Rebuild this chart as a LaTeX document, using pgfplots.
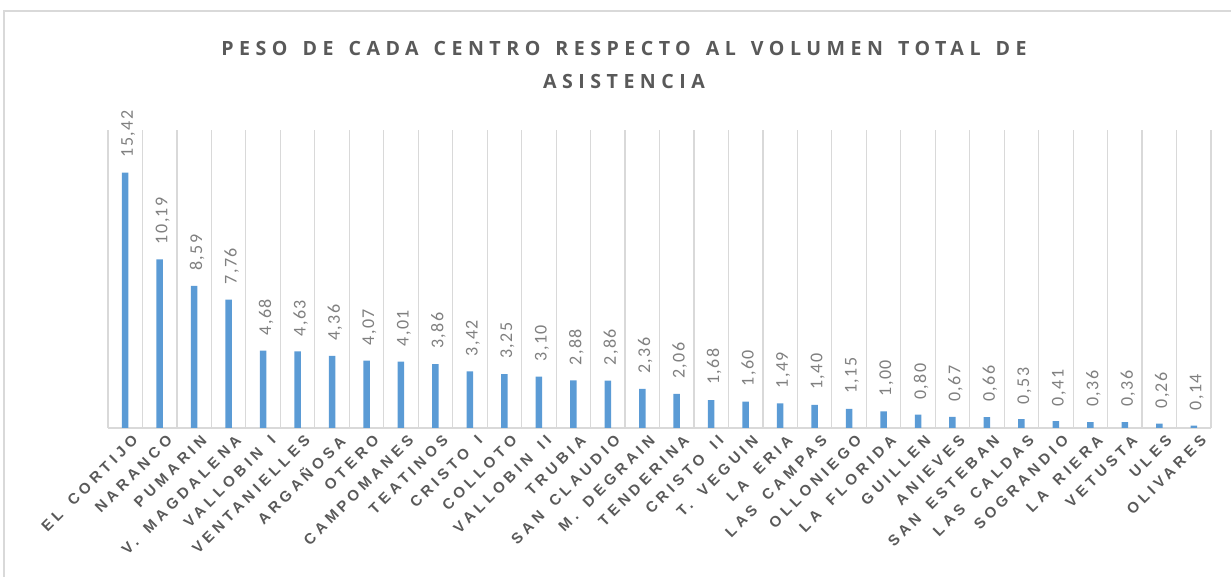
\documentclass[border=0pt]{standalone}
\usepackage{fontspec}
\usepackage{pgfplots}
\pgfplotsset{compat=1.18}
\setmainfont{Carlito}
\newfontfamily\titlefont[LetterSpace=28]{Open Sans Bold}
\newfontfamily\catfont[LetterSpace=28,WordSpace=1.6]{Liberation Sans Bold}
\newfontfamily\valfont[LetterSpace=8]{Carlito}
\definecolor{barblue}{HTML}{5B9BD5}
\definecolor{gridgray}{HTML}{D9D9D9}
\definecolor{txtgray}{HTML}{595959}
\definecolor{valgray}{HTML}{808080}
\newcommand{\ws}{\hspace*{15bp}}
\begin{document}
\begin{tikzpicture}[x=1bp,y=1bp]
\path[use as bounding box] (0,0) rectangle (1231,577);
\draw[gridgray, line width=1.5bp] (4,0) -- (4,566) -- (1231,566);
\node[text=txtgray, font=\titlefont\fontsize{19.6bp}{24bp}\selectfont] at (624,529) {PESO\ws DE\ws CADA\ws CENTRO\ws RESPECTO\ws AL\ws VOLUMEN\ws TOTAL\ws DE};
\node[text=txtgray, font=\titlefont\fontsize{19.6bp}{24bp}\selectfont] at (624,495) {ASISTENCIA};
\begin{axis}[
    at={(108bp,149bp)}, anchor=south west,
    scale only axis,
    width=1103bp, height=298bp,
    xmin=-0.5, xmax=31.5,
    ymin=0, ymax=18,
    clip=false,
    axis x line*=bottom,
    axis y line=none,
    x axis line style={draw=gridgray, line width=1.5bp},
    ytick=\empty,
    xtick={0,...,31},
    minor xtick={-0.5,0.5,...,31.5},
    major tick length=0pt, minor tick length=0pt,
    xminorgrids=true,
    minor grid style={draw=gridgray, line width=1.2bp},
    xticklabels={EL CORTIJO, NARANCO, PUMARIN, V. MAGDALENA, VALLOBIN I, VENTANIELLES, ARGAÑOSA, OTERO, CAMPOMANES, TEATINOS, CRISTO I, COLLOTO, VALLOBIN II, TRUBIA, SAN CLAUDIO, M. DEGRAIN, TENDERINA, CRISTO II, T. VEGUIN, LA ERIA, LAS CAMPAS, OLLONIEGO, LA FLORIDA, GUILLEN, ANIEVES, SAN ESTEBAN, LAS CALDAS, SOGRANDIO, LA RIERA, VETUSTA, ULES, OLIVARES},
    xticklabel style={rotate=45, anchor=east, inner sep=0pt, text=txtgray,
        font=\catfont\fontsize{15bp}{17bp}\selectfont, xshift=0bp, yshift=-14bp},
    ybar, bar width=6.5bp,
    nodes near coords,
    /pgf/number format/.cd, fixed, fixed zerofill, precision=2, use comma, assume math mode=true,
    /pgfplots/.cd,
    nodes near coords style={rotate=90, anchor=west, inner xsep=15bp, inner ysep=0pt,
        text=valgray, font=\valfont\fontsize{18bp}{20bp}\selectfont, yshift=-3bp},
]
\addplot[fill=barblue, draw=none] coordinates {
(0,15.42) (1,10.19) (2,8.59) (3,7.76) (4,4.68) (5,4.63) (6,4.36) (7,4.07)
(8,4.01) (9,3.86) (10,3.42) (11,3.25) (12,3.10) (13,2.88) (14,2.86) (15,2.36)
(16,2.06) (17,1.68) (18,1.60) (19,1.49) (20,1.40) (21,1.15) (22,1.00) (23,0.80)
(24,0.67) (25,0.66) (26,0.53) (27,0.41) (28,0.36) (29,0.36) (30,0.26) (31,0.14)
};
\end{axis}
\end{tikzpicture}
\end{document}
